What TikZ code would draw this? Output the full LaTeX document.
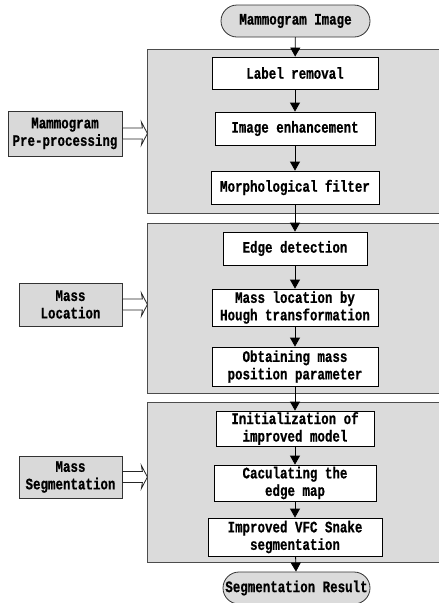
\documentclass[tikz,border=0pt]{standalone}
\usepackage{fontspec}
\setmonofont[FakeStretch=0.78,BoldFont={Liberation Mono Bold},BoldFeatures={FakeBold=0.6}]{Liberation Mono}
\usetikzlibrary{arrows.meta,shapes.misc}
\tikzset{
  panel/.style={draw=black!70,fill=black!14,line width=0.9pt},
  stepbox/.style={draw=black,fill=white,line width=0.8pt,align=center,inner sep=1pt},
  sidebox/.style={draw=black!80,fill=black!15,line width=0.8pt,align=center,inner sep=1pt},
  term/.style={draw=black!80,fill=black!14,line width=0.8pt,rounded rectangle,align=center,inner sep=1pt},
  flow/.style={draw=black,line width=0.8pt,-{Triangle[length=9pt,width=10pt]}},
  hollow/.style={draw=black!85,fill=white,line width=0.8pt},
}
\newcommand{\lbl}{\ttfamily\bfseries\fontsize{16}{17.5}\selectfont}
\begin{document}
\begin{tikzpicture}[x=1pt,y=-1pt,every node/.style={font=\lbl}]
\clip (0,0) rectangle (439,603);
\fill[white] (0,0) rectangle (439,603);

% stage panels
\path[panel] (147,49) rectangle (450,213);
\path[panel] (147,223) rectangle (450,393);
\path[panel] (147,402) rectangle (450,562);

% terminals
\node[term,minimum width=151pt,minimum height=32pt] (start) at (295.5,21) {Mammogram Image};
\node[term,minimum width=149pt,minimum height=32pt] (stop) at (296.5,588) {Segmentation Result};

% processing steps
\node[stepbox,minimum width=166pt,minimum height=32pt] (lr) at (295,73) {Label removal};
\node[stepbox,minimum width=160pt,minimum height=33pt] (ie) at (295,128.5) {Image enhancement};
\node[stepbox,minimum width=168pt,minimum height=33pt] (mf) at (295,187.5) {Morphological filter};
\node[stepbox,minimum width=144pt,minimum height=33pt] (ed) at (295,248.5) {Edge detection};
\node[stepbox,minimum width=166pt,minimum height=37pt] (ml) at (295,307.5) {Mass location by\\Hough transformation};
\node[stepbox,minimum width=166pt,minimum height=39pt] (op) at (295,366.5) {Obtaining mass\\position parameter};
\node[stepbox,minimum width=158pt,minimum height=35pt] (ini) at (295,428.5) {Initialization of\\improved model};
\node[stepbox,minimum width=162pt,minimum height=36pt] (cm) at (295,483) {Caculating the\\edge map};
\node[stepbox,minimum width=174pt,minimum height=38pt] (vfc) at (295,537) {Improved VFC Snake\\segmentation};

% stage labels
\node[sidebox,minimum width=114pt,minimum height=45pt] (s1) at (65,133.5) {Mammogram\\Pre-processing};
\node[sidebox,minimum width=103pt,minimum height=43pt] (s2) at (70.5,304.5) {Mass\\Location};
\node[sidebox,minimum width=103pt,minimum height=42pt] (s3) at (70.5,477) {Mass\\Segmentation};

% main flow
\draw[flow] (start) -- (lr);
\draw[flow] (lr) -- (ie);
\draw[flow] (ie) -- (mf);
\draw[flow] (mf) -- (ed);
\draw[flow] (ed) -- (ml);
\draw[flow] (ml) -- (op);
\draw[flow] (op) -- (ini);
\draw[flow] (ini) -- (cm);
\draw[flow] (cm) -- (vfc);
\draw[flow] (vfc) -- (stop);

% hollow arrows from stage labels to panels
\foreach \s in {s1,s2,s3}{
  \path[hollow] (\s.east) ++(0,-5.5) -- ++(20,0) -- ++(-1,-6) -- ++(6,11.5) -- ++(-6,11.5) -- ++(1,-6) -- ++(-20,0) -- cycle;
}
\end{tikzpicture}
\end{document}
